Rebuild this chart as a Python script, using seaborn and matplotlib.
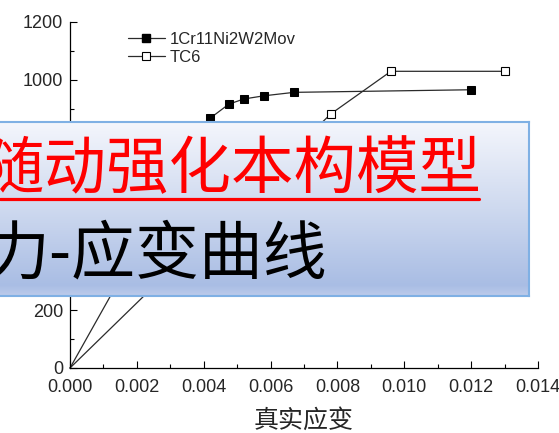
import numpy as np
import pandas as pd
import matplotlib
matplotlib.use("Agg")
import matplotlib.pyplot as plt
import seaborn as sns
from matplotlib.lines import Line2D
from matplotlib.colors import LinearSegmentedColormap
from matplotlib.ticker import MultipleLocator, FormatStrFormatter

# ---- data ----
strain_steel = [0.0, 0.0042, 0.00475, 0.0052, 0.0058, 0.0067, 0.0120]
stress_steel = [0, 867, 915, 933, 944, 956, 965]
strain_tc6 = [0.0, 0.0078, 0.0096, 0.0130]
stress_tc6 = [0, 881, 1029, 1029]
series_names = ["1Cr11Ni2W2Mov", "TC6"]
x_ticks = [0.000, 0.002, 0.004, 0.006, 0.008, 0.010, 0.012, 0.014]
y_ticks = [0, 200, 400, 600, 800, 1000, 1200]
y_ticks_covered = [400, 600, 800]   # hidden behind the overlay box in the reference
x_label = "真实应变"
title_red = "随动强化本构模型"
title_black = "力-应变曲线"

sns.set_style("ticks")
plt.rcParams["font.family"] = ["Liberation Sans", "Noto Sans CJK SC", "DejaVu Sans"]

W, H = 559, 433
fig = plt.figure(figsize=(W / 100, H / 100), dpi=100)
ax = fig.add_axes([70 / W, 1 - 368 / H, (538 - 70) / W, (368 - 22) / H])

df_s = pd.DataFrame({"strain": strain_steel, "stress": stress_steel})
df_t = pd.DataFrame({"strain": strain_tc6, "stress": stress_tc6})
line_col = "#2b2b2b"
sns.lineplot(data=df_s, x="strain", y="stress", ax=ax, estimator=None, sort=False,
             color=line_col, lw=0.9, marker="s", markersize=5.5,
             markerfacecolor="black", markeredgecolor="black",
             markevery=list(range(1, len(strain_steel))), clip_on=False)
sns.lineplot(data=df_t, x="strain", y="stress", ax=ax, estimator=None, sort=False,
             color=line_col, lw=0.9, marker="s", markersize=5.5,
             markerfacecolor="white", markeredgecolor="black", markeredgewidth=0.8,
             markevery=list(range(1, len(strain_tc6))), clip_on=False)

ax.set_xlim(0, 0.014)
ax.set_ylim(0, 1200)
ax.set_xticks(x_ticks)
ax.set_yticks(y_ticks)
ax.xaxis.set_major_formatter(FormatStrFormatter("%.3f"))
ax.xaxis.set_minor_locator(MultipleLocator(0.001))
ax.yaxis.set_minor_locator(MultipleLocator(100))
ax.tick_params(which="major", direction="in", length=5, width=0.8, labelsize=13, pad=5, color="black")
ax.tick_params(which="minor", direction="in", length=3, width=0.8, color="black")
ax.tick_params(axis="x", which="major", pad=8)
for s in ["top", "right"]:
    ax.spines[s].set_visible(False)
for s in ["left", "bottom"]:
    ax.spines[s].set_linewidth(0.9)
    ax.spines[s].set_color("black")
ax.set_ylabel("")
ax.set_xlabel(x_label, fontsize=18, family=["Noto Sans CJK SC", "DejaVu Sans"])
ax.xaxis.set_label_coords(0.5, -0.115)

fig.canvas.draw()
for val, lab in zip(ax.get_yticks(), ax.get_yticklabels()):
    if val in y_ticks_covered:
        lab.set_visible(False)

handles = [
    Line2D([], [], color=line_col, lw=0.9, marker="s", markersize=5.5,
           markerfacecolor="black", markeredgecolor="black"),
    Line2D([], [], color=line_col, lw=0.9, marker="s", markersize=5.5,
           markerfacecolor="white", markeredgecolor="black", markeredgewidth=0.8),
]
ax.legend(handles, series_names, loc="upper left", bbox_to_anchor=(128 / W, 1 - 32 / H),
          bbox_transform=fig.transFigure, frameon=False, fontsize=12, borderpad=0,
          borderaxespad=0, handlelength=2.2, handletextpad=0.3, labelspacing=0.15)

# ---- overlay box ----
bx0, bx1, by0, by1 = -10, 529, 122, 296
box = fig.add_axes([bx0 / W, 1 - by1 / H, (bx1 - bx0) / W, (by1 - by0) / H], zorder=5)
cmap = LinearSegmentedColormap.from_list(
    "grad",
    [(0.0, (244 / 255, 246 / 255, 252 / 255)),
     (0.5, (206 / 255, 217 / 255, 239 / 255)),
     (0.94, (169 / 255, 189 / 255, 228 / 255)),
     (1.0, (188 / 255, 203 / 255, 235 / 255))])
grad = np.linspace(0, 1, 256).reshape(-1, 1)
box.imshow(grad, aspect="auto", cmap=cmap, extent=[0, 1, 1, 0])
box.set_xlim(0, 1)
box.set_ylim(1, 0)
box.set_xticks([])
box.set_yticks([])
for s in box.spines.values():
    s.set_color("#7fb0e4")
    s.set_linewidth(1.5)

fig.text(481 / W, 1 - 188 / H, title_red, color="#ff0000", fontsize=45, ha="right",
         va="baseline", family=["Noto Sans CJK SC", "DejaVu Sans"], zorder=10)
fig.add_artist(Line2D([0, 479 / W], [1 - 199 / H, 1 - 199 / H], color="#ff0000",
                      lw=2.3, transform=fig.transFigure, zorder=10))
fig.text(327 / W, 1 - 273 / H, title_black, color="black", fontsize=46, ha="right",
         va="baseline", family=["Noto Sans CJK SC", "DejaVu Sans"], zorder=10)

fig.savefig("out.png", dpi=100)
